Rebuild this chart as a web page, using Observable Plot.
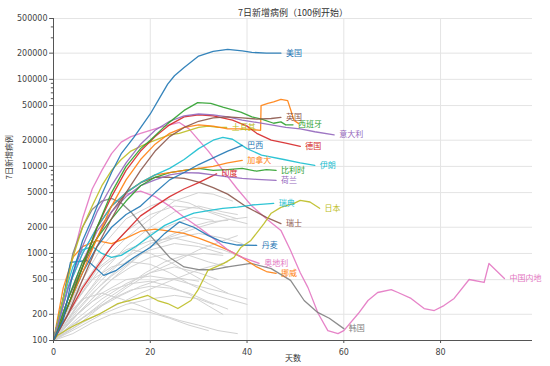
<!DOCTYPE html>
<html><head><meta charset="utf-8">
<script src="https://cdn.jsdelivr.net/npm/d3@7"></script>
<script src="https://cdn.jsdelivr.net/npm/@observablehq/plot@0.6"></script>
<style>body{margin:0;background:#fff;} svg{display:block}</style>
</head><body><div id="chart"></div>
<script>
// [day, 7-day new cases]
const us = [[0,100],[2,170],[4,590],[6,1400],[8,2500],[10,4800],[12,8500],[14,14000],[16.6,21500],[20,40000],[22,62000],[23.6,88000],[25,110000],[27,137000],[30,185000],[33,210000],[36,221000],[39,212000],[41,204000],[44,200000],[47,200000]];
const uk = [[0,100],[3,200],[6,500],[9,1200],[12,2500],[15,5000],[18,9000],[21,15000],[24,22000],[27,28000],[30,33000],[33,36000],[36,37000],[39,36000],[42,35000],[45,35500],[47,36500]];
const spain = [[0,100],[3,250],[6,700],[9,2000],[12,5000],[15,10000],[18,16000],[20,20000],[23.6,31000],[27,44000],[29.8,54000],[32.5,53000],[35,48000],[38.7,42000],[41,37000],[43,35000],[45.5,31300],[47,32500],[48,30000],[49.5,30000]];
const italy = [[0,100],[3,400],[6,1200],[9,3000],[12,6000],[15,11000],[18,18000],[21,26000],[24,33000],[27,38000],[30,40000],[33,39000],[36,37000],[39,34000],[42,32000],[45,30000],[48,28000],[51,27000],[54,25000],[58,23000]];
const germany = [[0,100],[3,250],[6,700],[9,2000],[12,4500],[15,9000],[18,15000],[21,22000],[24,30000],[27,37000],[30,39000],[33,38000],[37,34000],[40,29000],[42,24000],[45,20000],[48,18500],[51,17000]];
const france = [[0,100],[3,250],[6,600],[9,1500],[12,3500],[15,7000],[18,12000],[21,18000],[24,24000],[27,28000],[30,30000],[33,29000],[36,27000],[39,27000],[42.8,26000],[42.9,50000],[44.3,53000],[45.5,55000],[47,59000],[48.4,57000],[49,45000],[49.7,33800],[50.7,31000]];
const turkey = [[0,100],[2,300],[4,900],[6,2000],[8,3500],[10,6000],[12,9000],[14,12000],[16,15000],[18,17000],[20,19000],[22,21000],[24,23000],[26,24000],[28,26000],[30,28000],[32,29000],[34,28000],[35.8,28000]];
const brazil = [[0,100],[3,250],[6,600],[9,1200],[12,2000],[15,2800],[18,3500],[21,5000],[24,7000],[27,8500],[30,10500],[33,12500],[36,15000],[39,17400]];
const iran = [[0,100],[3,400],[6,1000],[9,2000],[12,3500],[15,5000],[18,6500],[21,8000],[24,9500],[27,12000],[30,16000],[33,20000],[35,21500],[37,20500],[40,16000],[43,13500],[47.6,12000],[51,11000],[54,10300]];
const canada = [[0,100],[3,250],[6,700],[9,2000],[12,3500],[15,5000],[18,6500],[21,8000],[24,8500],[27,9000],[30,9500],[33,10000],[36,11000],[39,11700]];
const belgium = [[0,100],[3,300],[6,800],[9,1500],[12,2500],[15,4000],[18,6000],[21,7500],[24,8500],[27,9000],[30,9500],[33,9000],[36,9200],[39,9500],[42,8800],[44,9200],[46,9000]];
const netherlands = [[0,100],[3,300],[6,800],[9,1800],[12,3000],[15,4500],[18,6000],[21,7000],[24,8000],[27,8500],[30,8400],[33,8000],[36,7600],[39,7300],[42,7100],[46,6900]];
const india = [[0,100],[3,200],[6,400],[9,700],[12,1200],[15,1800],[18,2700],[21,3500],[24,4500],[27,5500],[30,6500],[33.7,8200]];
const sweden = [[0,100],[2,300],[4,700],[6,1100],[8,1200],[10,1000],[12,900],[14,950],[17,1200],[20,1600],[23,2100],[26,2500],[29,2900],[32,3100],[35,3300],[38,3400],[41,3600],[45.5,3760]];
const japan = [[0,100],[0.8,114],[3.5,141],[6.5,170],[9.7,204],[13.3,266],[17.4,304],[19.5,329],[21.5,288],[23.6,266],[25.7,233],[28.4,288],[29.8,376],[31.9,638],[35.2,768],[37.3,900],[38.7,1170],[40.8,1410],[43.5,2200],[45,2900],[47,3380],[49.7,3760],[51,4070],[53,3900],[55,3300]];
const switzerland = [[0,100],[3,300],[6,700],[9,1500],[12,3000],[15,5000],[18,6500],[21,7500],[24,7500],[27,7300],[30,6600],[33,5700],[36,4800],[40,3400],[44,2600],[47,2200]];
const denmark = [[0,100],[2,300],[3.5,790],[7,830],[10.4,560],[13,640],[16.6,900],[20,1170],[23,1700],[26,2300],[29,2000],[32,1600],[35,1350],[38,1250],[42,1240]];
const austria = [[0,100],[3,400],[6,1000],[9,2000],[12,3500],[15,4800],[18,5200],[21,4500],[24,3500],[27,2600],[30,2000],[33,1500],[36,1100],[39,900],[42.5,770]];
const norway = [[0,100],[2,400],[4,900],[6,1200],[9,1400],[12,1300],[15,1500],[18,1800],[21,1900],[24,1800],[27,1700],[30,1500],[33,1300],[36,1100],[39,900],[42,700],[44,620],[46,590]];
const korea = [[0,100],[2,300],[4,1000],[6,2000],[8,3200],[10,4000],[12,4300],[14,3800],[16,3000],[18,2200],[20,1600],[22,1200],[24,900],[27,700],[30,650],[33,650],[36,700],[40.8,770],[45,670],[49,490],[51.8,288],[54.6,210],[57,180],[60,137]];
const china = [[0,100],[2,300],[4,900],[6,2500],[8,5500],[10,9000],[12,14000],[14,19000],[16,22000],[18,24000],[20,26000],[22,28000],[24,30000],[26,32000],[28,27000],[30,20000],[32,15000],[35,9000],[38,5500],[41,3500],[44,2500],[47,1840],[49,1080],[51,600],[52.6,405],[54.7,204],[56.7,130],[58.8,120],[60,130],[63,204],[65,288],[67,356],[69.8,385],[71.2,356],[73.9,304],[76.6,233],[78.7,221],[80.7,252],[82.8,304],[85.9,502],[89,464],[90,767],[93.2,516]];

const grayLines = [
 [[0,100],[5,250],[10,600],[15,1200],[20,2000],[25,3000],[30,3500],[35,3000],[38,2800]],
 [[0,100],[5,200],[10,400],[15,700],[20,1200],[25,1500],[30,1700],[35,1500],[39,1300]],
 [[0,100],[4,180],[8,300],[12,500],[16,700],[20,900],[24,1000],[28,950],[32,800],[36,700]],
 [[0,100],[5,300],[10,800],[15,1500],[20,2500],[25,4000],[30,5000],[33,4800],[37,4000]],
 [[0,100],[5,150],[10,250],[15,400],[20,600],[25,700],[30,600],[34,500]],
 [[0,100],[3,200],[6,300],[10,350],[14,300],[18,250],[22,200],[26,170],[30,150],[34,130],[38,120]],
 [[0,100],[5,250],[10,500],[15,900],[20,1300],[25,1600],[30,2000],[35,2400],[40,2600]],
 [[0,100],[4,300],[8,600],[12,900],[16,1100],[20,1000],[24,800],[28,600],[32,450],[36,350]],
 [[0,100],[5,180],[10,300],[15,450],[20,600],[25,800],[30,1100],[35,1400],[38,1600]],
 [[0,100],[4,150],[8,220],[12,300],[16,380],[20,420],[24,400],[28,350],[32,280],[36,230]],
 [[0,100],[5,400],[10,1200],[15,2500],[20,3500],[24,4200],[28,3800],[32,3000],[36,2500],[40,2200]],
 [[0,100],[3,130],[6,180],[10,250],[14,330],[18,420],[22,500],[26,520],[30,480]],
 [[0,100],[5,220],[10,450],[15,800],[20,1100],[25,1300],[30,1200],[35,1000]],
 [[0,100],[4,200],[8,350],[12,550],[16,800],[20,1200],[24,1600],[28,2000],[32,2300],[36,2400]],
 [[0,100],[5,140],[10,200],[15,260],[20,300],[25,330],[30,300],[33,260]],
 [[0,100],[4,250],[8,500],[12,700],[16,800],[20,750],[24,600],[28,450],[32,350],[36,300],[40,260]],
 [[0,100],[5,300],[10,700],[15,1100],[20,1400],[25,1500],[30,1300],[35,1100],[39,900]],
 [[0,100],[6,160],[12,240],[18,350],[24,480],[30,650],[36,800]],
 [[0,100],[4,120],[8,160],[12,200],[16,230],[20,210],[24,180],[28,150],[32,130]],
 [[0,100],[5,350],[10,900],[15,1800],[20,2800],[25,3500],[30,3300],[35,2800],[38,2500]],
 [[0,100],[5,200],[10,350],[15,500],[20,550],[25,500],[30,420],[35,360],[40,300]],
 [[0,100],[3,140],[7,200],[11,300],[15,420],[19,600],[23,800],[27,950],[31,1000],[35,950]],
 [[0,100],[4,180],[8,280],[12,380],[16,450],[20,480],[24,420],[28,340],[32,250],[35,200]],
 [[0,100],[5,260],[10,550],[15,900],[20,1700],[25,2200],[29,2600],[33,2400]]
];

const names = ["中国内地","韩国","挪威","奥地利","丹麦","瑞士","日本","瑞典","印度","荷兰","比利时","加拿大","伊朗","巴西","土耳其","法国","德国","意大利","西班牙","英国","美国"];
const seriesData = [china,korea,norway,austria,denmark,switzerland,japan,sweden,india,netherlands,belgium,canada,iran,brazil,turkey,france,germany,italy,spain,uk,us];
const labelled = names.filter(n => n !== "法国");
const yTicks = [100,200,500,1000,2000,5000,10000,20000,50000,100000,200000,500000];
const xTicks = [0,20,40,60,80];
const minorTicks = [300,400,600,700,800,900,3000,4000,6000,7000,8000,9000,30000,40000,60000,70000,80000,90000,300000,400000];

const palette = {"美国":"#1f77b4","英国":"#8c564b","西班牙":"#2ca02c","意大利":"#9467bd","德国":"#d62728","法国":"#ff7f0e","土耳其":"#bcbd22","巴西":"#1f77b4","伊朗":"#17becf","加拿大":"#ff7f0e","比利时":"#2ca02c","荷兰":"#9467bd","印度":"#d62728","瑞典":"#17becf","日本":"#bcbd22","瑞士":"#8c564b","丹麦":"#1f77b4","奥地利":"#e377c2","挪威":"#ff7f0e","韩国":"#7f7f7f","中国内地":"#e377c2"};

const font = "'DejaVu Sans','Noto Sans CJK SC',sans-serif";
const cjk = "'Noto Sans CJK SC',sans-serif";

const marks = [
  Plot.gridX(xTicks, {stroke:"#e4e4e4", strokeOpacity:1}),
  Plot.gridY(yTicks, {stroke:"#e4e4e4", strokeOpacity:1}),
  ...grayLines.map(g => Plot.line(g, {x:d=>d[0], y:d=>d[1], stroke:"#d2d2d2", strokeWidth:1})),
  ...seriesData.map((s,i) => Plot.line(s, {x:d=>d[0], y:d=>d[1], stroke:palette[names[i]], strokeWidth:1.3, strokeOpacity:0.9})),
  ...seriesData.map((s,i) => labelled.includes(names[i]) ? Plot.text([s[s.length-1]], {x:d=>d[0], y:d=>d[1], text:()=>names[i], fill:palette[names[i]], dx:5, textAnchor:"start", fontSize:8, fontFamily:cjk}) : null).filter(Boolean),
  // y ticks and labels
  Plot.ruleY(minorTicks, {y:d=>d, x1:-0.45, x2:0, stroke:"#555", clip:false}),
  Plot.ruleY(yTicks, {y:d=>d, x1:-0.8, x2:0, stroke:"#555", clip:false}),
  Plot.text(yTicks, {y:d=>d, frameAnchor:"left", dx:-6, textAnchor:"end", text:d=>String(d), fill:"#444", fontSize:8, fontFamily:font}),
  // x ticks and labels
  Plot.axisX(xTicks, {tickSize:3, tickFormat:d=>String(d), fill:"#444", stroke:"#555", fontSize:8}),
  Plot.ruleX([0], {stroke:"#555"}),
  Plot.ruleY([100], {stroke:"#555"}),
  Plot.text(["7日新增病例（100例开始）"], {frameAnchor:"top", dy:-9, fontSize:9, fill:"#333", fontFamily:cjk}),
  Plot.text(["天数"], {frameAnchor:"bottom", dy:20, fontSize:8, fill:"#333", fontFamily:cjk}),
  Plot.text(["7日新增病例"], {frameAnchor:"left", dx:-44, rotate:-90, fontSize:8, fill:"#333", fontFamily:cjk})
];

const chart = Plot.plot({
  width:550, height:366,
  marginLeft:53, marginRight:18, marginTop:18, marginBottom:26,
  style:{fontFamily:font, fontSize:"8px", background:"#fff"},
  x:{domain:[0,99], label:null},
  y:{type:"log", domain:[100,500000], label:null, axis:null},
  marks
});
document.getElementById("chart").appendChild(chart);
</script>
</body></html>
